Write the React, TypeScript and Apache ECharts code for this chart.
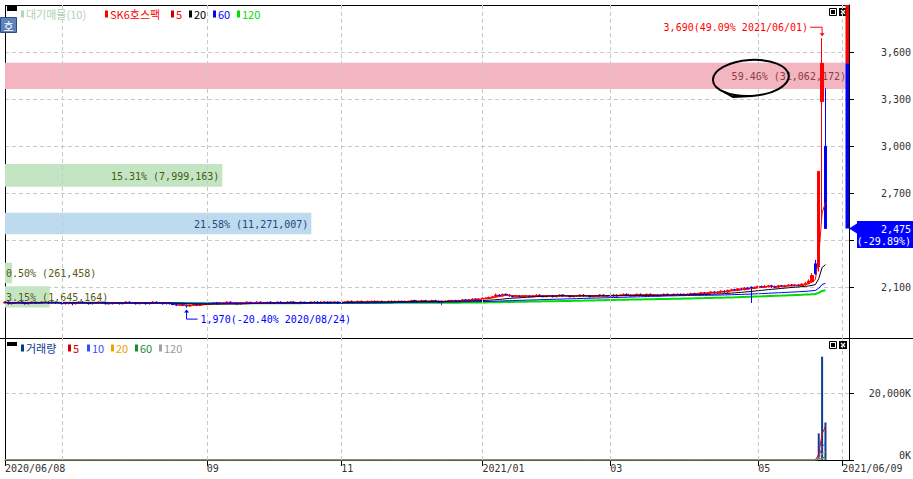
import React, { useEffect, useRef } from "react";
import * as echarts from "echarts";

const MONO = '"DejaVu Sans Mono", monospace';
const KFONT = '"Noto Sans CJK KR", sans-serif';

// market holidays inside the window
const holidays = [
	"2020/08/17", "2020/09/30", "2020/10/01", "2020/10/02", "2020/10/09", "2020/12/25",
	"2020/12/31", "2021/01/01", "2021/02/11", "2021/02/12", "2021/03/01", "2021/05/05", "2021/05/19",
];

// daily candles [open, close, low, high]
const jun20 = [
	[2000, 2005, 1995, 2010], [2005, 1995, 1990, 2010], [1995, 2000, 1990, 2005], [2000, 2000, 1995, 2005], [2000, 2005, 1995, 2010],
	[2005, 2000, 1995, 2010], [2000, 1995, 1990, 2005], [1995, 2000, 1990, 2005], [2000, 2005, 1995, 2010], [2005, 2000, 1995, 2005],
	[2000, 2000, 1995, 2005], [2000, 2005, 1995, 2010], [2005, 2005, 2000, 2010], [2005, 2000, 1995, 2010], [2000, 2005, 1995, 2010],
	[2005, 2000, 1995, 2005], [2000, 2000, 1995, 2005],
];
const jul20 = [
	[2000, 1995, 1990, 2005], [1995, 2000, 1990, 2005], [2000, 2000, 1990, 2005], [2000, 1995, 1985, 2005], [1995, 2000, 1990, 2005],
	[2000, 2005, 1995, 2010], [2005, 2000, 1995, 2010], [2000, 2000, 1995, 2005], [2000, 1995, 1990, 2005], [1995, 2000, 1990, 2005],
	[2000, 2000, 1995, 2005], [2000, 2005, 1995, 2010], [2005, 2000, 1995, 2005], [2000, 1995, 1990, 2005], [1995, 1995, 1990, 2000],
	[1995, 2000, 1990, 2005], [2000, 2000, 1995, 2005], [2000, 1995, 1990, 2005], [1995, 2000, 1990, 2005], [2000, 2005, 1995, 2010],
	[2005, 2000, 1995, 2010], [2000, 2000, 1995, 2005], [2000, 1995, 1990, 2005],
];
const aug20 = [
	[1995, 2000, 1990, 2005], [2000, 2000, 1995, 2005], [2000, 1995, 1990, 2005], [1995, 2000, 1990, 2005], [2000, 2005, 1995, 2010],
	[2005, 2000, 1995, 2010], [2000, 2000, 1995, 2005], [2000, 1995, 1990, 2005], [1995, 2000, 1990, 2005], [2000, 1995, 1990, 2005],
	[1995, 1990, 1985, 2000], [1990, 1985, 1980, 1995], [1985, 1990, 1980, 1995], [1990, 1985, 1980, 1995], [1985, 1980, 1970, 1990],
	[1980, 1985, 1975, 1990], [1985, 1990, 1980, 1995], [1990, 1985, 1980, 1995], [1985, 1990, 1980, 1995], [1990, 1990, 1985, 1995],
];
const sep20 = [
	[1990, 1995, 1985, 2000], [1995, 1995, 1990, 2000], [1995, 2000, 1990, 2005], [2000, 1995, 1990, 2005], [1995, 2000, 1990, 2005],
	[2000, 2000, 1995, 2005], [2000, 2005, 1995, 2010], [2005, 2000, 1995, 2010], [2000, 2000, 1995, 2005], [2000, 1995, 1990, 2005],
	[1995, 2000, 1990, 2005], [2000, 2000, 1995, 2005], [2000, 2005, 1995, 2010], [2005, 2000, 1995, 2005], [2000, 2000, 1995, 2005],
	[2000, 2005, 1995, 2010], [2005, 2000, 1995, 2010], [2000, 2000, 1995, 2005], [2000, 2005, 1995, 2005], [2005, 2000, 1995, 2010],
	[2000, 2000, 1995, 2005],
];
const oct20 = [
	[2000, 2005, 1995, 2010], [2005, 2000, 1995, 2010], [2000, 2000, 1995, 2005], [2000, 2005, 1995, 2010], [2005, 2005, 2000, 2010],
	[2005, 2000, 1995, 2010], [2000, 2000, 1995, 2005], [2000, 2005, 1995, 2010], [2005, 2000, 1995, 2005], [2000, 2000, 1995, 2005],
	[2000, 2005, 1995, 2010], [2005, 2005, 2000, 2010], [2005, 2000, 1995, 2010], [2000, 2005, 1995, 2010], [2005, 2005, 2000, 2010],
	[2005, 2000, 1995, 2010], [2000, 2005, 1995, 2010], [2005, 2005, 2000, 2010], [2005, 2000, 1995, 2010],
];
const nov20 = [
	[2000, 2005, 1995, 2010], [2005, 2005, 2000, 2010], [2005, 2010, 2000, 2015], [2010, 2005, 2000, 2015], [2005, 2005, 2000, 2010],
	[2005, 2010, 2000, 2015], [2010, 2005, 2000, 2015], [2005, 2005, 2000, 2010], [2005, 2010, 2000, 2015], [2010, 2010, 2005, 2015],
	[2010, 2005, 2000, 2015], [2005, 2010, 2000, 2015], [2010, 2005, 2000, 2015], [2005, 2005, 2000, 2010], [2005, 2010, 2000, 2015],
	[2010, 2005, 2000, 2015], [2005, 2010, 2000, 2015], [2010, 2010, 2005, 2015], [2010, 2005, 2000, 2015], [2005, 2010, 2000, 2015],
	[2010, 2010, 2005, 2015],
];
const dec20 = [
	[2010, 2015, 2005, 2020], [2015, 2010, 2005, 2020], [2010, 2010, 2005, 2015], [2010, 2015, 2005, 2020], [2015, 2010, 2005, 2020],
	[2010, 2010, 2005, 2015], [2010, 2015, 2005, 2020], [2015, 2010, 2005, 2020], [2010, 2005, 2000, 2015], [2005, 2010, 1985, 2015],
	[2010, 2010, 2005, 2015], [2010, 2015, 2005, 2020], [2015, 2015, 2010, 2020], [2015, 2010, 2005, 2020], [2010, 2015, 2005, 2020],
	[2015, 2020, 2010, 2025], [2020, 2015, 2010, 2025], [2015, 2020, 2010, 2025], [2020, 2025, 2015, 2030], [2025, 2020, 2015, 2030],
	[2020, 2025, 2015, 2030],
];
const jan21 = [
	[2025, 2030, 2020, 2035], [2030, 2030, 2025, 2035], [2030, 2035, 2025, 2040], [2035, 2040, 2030, 2045], [2040, 2050, 2035, 2060],
	[2050, 2045, 2040, 2055], [2045, 2055, 2040, 2060], [2055, 2050, 2045, 2060], [2050, 2045, 2040, 2055], [2045, 2040, 2035, 2050],
	[2040, 2045, 2035, 2050], [2045, 2040, 2035, 2050], [2040, 2045, 2035, 2050], [2045, 2045, 2040, 2050], [2045, 2040, 2035, 2050],
	[2040, 2045, 2035, 2050], [2045, 2050, 2040, 2055], [2050, 2045, 2040, 2055], [2045, 2040, 2035, 2050], [2040, 2045, 2035, 2050],
];
const feb21 = [
	[2045, 2045, 2040, 2050], [2045, 2040, 2035, 2050], [2040, 2045, 2035, 2050], [2045, 2050, 2040, 2055], [2050, 2045, 2040, 2055],
	[2045, 2045, 2040, 2050], [2045, 2040, 2035, 2050], [2040, 2045, 2035, 2050], [2045, 2045, 2040, 2050], [2045, 2050, 2040, 2055],
	[2050, 2045, 2040, 2055], [2045, 2045, 2040, 2050], [2045, 2040, 2035, 2050], [2040, 2045, 2035, 2050], [2045, 2045, 2040, 2050],
	[2045, 2050, 2040, 2055], [2050, 2045, 2040, 2055], [2045, 2045, 2040, 2050],
];
const mar21 = [
	[2045, 2050, 2040, 2055], [2050, 2045, 2040, 2055], [2045, 2050, 2040, 2055], [2050, 2050, 2045, 2055], [2050, 2055, 2045, 2060],
	[2055, 2050, 2045, 2060], [2050, 2045, 2040, 2055], [2045, 2050, 2040, 2055], [2050, 2055, 2045, 2060], [2055, 2050, 2045, 2060],
	[2050, 2050, 2045, 2055], [2050, 2055, 2045, 2060], [2055, 2050, 2045, 2060], [2050, 2050, 2045, 2055], [2050, 2045, 2040, 2055],
	[2045, 2050, 2040, 2055], [2050, 2055, 2045, 2060], [2055, 2050, 2045, 2060], [2050, 2050, 2045, 2055], [2050, 2055, 2045, 2060],
	[2055, 2055, 2050, 2060], [2055, 2050, 2045, 2060],
];
const apr21 = [
	[2050, 2055, 2045, 2060], [2055, 2055, 2050, 2060], [2055, 2060, 2050, 2065], [2060, 2055, 2050, 2065], [2055, 2060, 2050, 2065],
	[2060, 2065, 2055, 2070], [2065, 2060, 2055, 2070], [2060, 2065, 2050, 2070], [2065, 2070, 2060, 2075], [2070, 2065, 2060, 2075],
	[2065, 2070, 2060, 2075], [2070, 2075, 2065, 2080], [2075, 2070, 2065, 2080], [2070, 2080, 2065, 2085], [2080, 2085, 2075, 2090],
	[2085, 2080, 2075, 2090], [2080, 2090, 2075, 2095], [2090, 2085, 2080, 2095], [2085, 2095, 2080, 2100], [2095, 2090, 2085, 2100],
	[2100, 2095, 2000, 2105], [2095, 2100, 2090, 2105],
];
const may21 = [
	[2100, 2105, 2095, 2110], [2105, 2100, 2095, 2110], [2100, 2105, 2095, 2115], [2105, 2110, 2100, 2115], [2110, 2105, 2095, 2115],
	[2105, 2100, 2095, 2110], [2100, 2110, 2095, 2115], [2110, 2105, 2100, 2115], [2105, 2110, 2100, 2115], [2110, 2115, 2105, 2120],
	[2115, 2110, 2105, 2120], [2110, 2115, 2105, 2120], [2115, 2110, 2105, 2120], [2110, 2120, 2105, 2125], [2120, 2125, 2110, 2135],
	[2125, 2140, 2120, 2150], [2135, 2175, 2130, 2190], [2250, 2185, 2180, 2275], [2230, 2840, 2200, 2840],
];
const jun21 = [[3285, 3530, 2520, 3690], [3000, 2475, 2475, 3370]];

// daily volume, thousand shares
const volJun20 = [14, 9, 6, 11, 8, 5, 7, 12, 6, 9, 4, 8, 10, 6, 7, 5, 9];
const volJul20 = [6, 8, 5, 11, 7, 4, 9, 6, 5, 13, 7, 6, 8, 4, 5, 9, 6, 7, 5, 10, 6, 4, 8];
const volAug20 = [7, 5, 6, 9, 4, 6, 8, 5, 7, 11, 14, 18, 9, 12, 21, 10, 8, 6, 9, 7];
const volSep20 = [8, 6, 5, 7, 9, 4, 6, 5, 8, 6, 7, 5, 4, 9, 6, 5, 7, 6, 4, 5, 6];
const volOct20 = [5, 7, 4, 6, 5, 8, 4, 6, 5, 7, 4, 5, 6, 3, 5, 7, 4, 6, 5];
const volNov20 = [6, 5, 8, 4, 6, 5, 7, 9, 5, 4, 6, 5, 7, 4, 6, 8, 5, 4, 6, 5, 7];
const volDec20 = [5, 6, 4, 7, 5, 6, 4, 5, 8, 12, 6, 5, 7, 4, 6, 9, 5, 7, 11, 6, 8];
const volJan21 = [9, 7, 10, 12, 18, 11, 14, 9, 8, 6, 7, 5, 8, 6, 5, 7, 9, 6, 5, 7];
const volFeb21 = [6, 5, 7, 8, 5, 4, 6, 5, 7, 8, 5, 4, 6, 5, 4, 7, 6, 5];
const volMar21 = [6, 7, 5, 4, 8, 6, 5, 7, 9, 6, 5, 4, 6, 7, 5, 6, 8, 5, 4, 6, 5, 7];
const volApr21 = [6, 5, 8, 6, 7, 9, 6, 8, 10, 7, 6, 9, 7, 11, 10, 8, 12, 9, 13, 8, 25, 10];
const volMay21 = [9, 7, 8, 10, 7, 6, 9, 8, 7, 10, 8, 9, 7, 12, 15, 30, 80, 150, 7999];
const volJun21 = [31062, 11271];

// 대기매물 bands (price range, share, volume)
const profileLow = [3366, 2742, 2438, 2126, 1971];
const profileHigh = [3534, 2887, 2576, 2257, 2107];
const profilePct = [59.46, 15.31, 21.58, 0.5, 3.15];
const profileVol = [31062172, 7999163, 11271007, 261458, 1645164];
const profileFill = ["#f3b5bf", "#c3e5c3", "#bddaef", "#c3e5c3", "#c3e5c3"];
const profileText = ["#8c3c46", "#4b5a12", "#1d4a7c", "#555a10", "#555a10"];

const priceTicks = [2100, 2400, 2700, 3000, 3300, 3600];
const priceLabels = [2100, 2700, 3000, 3300, 3600]; // 2,400 sits under the price box
const volumeTicks = [0, 20000000];
const upperLimit = 4585;

const priceLegend = ["대기매물(10)", "SK6호스팩", "5", "20", "60", "120"];
const volumeLegend = ["거래량", "5", "10", "20", "60", "120"];
const maPeriods = [5, 20, 60, 120];
const maColors = ["#ff0000", "#000000", "#0000ff", "#00dd00"];
const volMaPeriods = [5, 10, 20, 60, 120];
const volMaColors = ["#e00000", "#3050ff", "#f0a000", "#1a8a3a", "#a0a0a0"];

function tradingDays(from: number[], to: number[]) {
	const out: string[] = [];
	const d = new Date(Date.UTC(from[0], from[1] - 1, from[2]));
	const end = Date.UTC(to[0], to[1] - 1, to[2]);
	while (d.getTime() <= end) {
		const wd = d.getUTCDay();
		const s = d.toISOString().slice(0, 10).replace(/-/g, "/");
		if (wd !== 0 && wd !== 6 && !holidays.includes(s)) out.push(s);
		d.setUTCDate(d.getUTCDate() + 1);
	}
	return out;
}

// two blank sessions after the last label keep the right margin
const dates = tradingDays([2020, 6, 8], [2021, 6, 11]);
const lastLabel = "2021/06/09";

const candles = [...jun20, ...jul20, ...aug20, ...sep20, ...oct20, ...nov20, ...dec20, ...jan21, ...feb21, ...mar21, ...apr21, ...may21, ...jun21];
const volumes = [...volJun20, ...volJul20, ...volAug20, ...volSep20, ...volOct20, ...volNov20, ...volDec20, ...volJan21, ...volFeb21, ...volMar21, ...volApr21, ...volMay21, ...volJun21].map((v) => v * 1000);

const movingAverage = (arr: number[], n: number) =>
	arr.map((_, i) => {
		const s = Math.max(0, i - n + 1);
		let sum = 0;
		for (let j = s; j <= i; j++) sum += arr[j];
		return +(sum / (i - s + 1)).toFixed(2);
	});

const fmt = (v: number) => v.toLocaleString("en-US");

export default function App() {
	const ref = useRef<HTMLDivElement>(null);

	useEffect(() => {
		if (!ref.current) return;
		const chart = echarts.init(ref.current, null, { renderer: "svg" });

		const closes = candles.map((c) => c[1]);
		const lows = candles.map((c) => c[2]);
		const highs = candles.map((c) => c[3]);
		const lastIdx = candles.length - 1;
		const lastClose = closes[lastIdx];
		const prevClose = closes[lastIdx - 1];

		// month marks on the date axis
		const labelAt = new Map<number, string>();
		const splitDates: string[] = [];
		dates.forEach((d, i) => {
			if (i === 0 || dates[i - 1].slice(0, 7) === d.slice(0, 7)) return;
			const m = Number(d.slice(5, 7));
			if (m % 2 === 0) return;
			splitDates.push(d);
			if (i > 30) labelAt.set(i, m === 1 ? d.slice(0, 7) : d.slice(5, 7));
		});
		const endIdx = dates.indexOf(lastLabel);
		labelAt.set(0, dates[0]);
		labelAt.set(endIdx, lastLabel);
		splitDates.push(lastLabel);

		const dashed = { color: "#c8c8c8", type: [4, 3], width: 1 };
		const vGrid = {
			silent: true, symbol: ["none", "none"], label: { show: false }, animation: false,
			lineStyle: dashed, emphasis: { disabled: true },
			data: splitDates.map((d) => ({ xAxis: d })),
		};
		const maxPct = Math.max(...profilePct);

		const option: any = {
			animation: false,
			backgroundColor: "#ffffff",
			textStyle: { fontFamily: MONO },
			grid: [
				{ left: 5, top: 5, width: 844, height: 333, outerBoundsMode: "none" },
				{ left: 5, top: 338, width: 844, height: 122, outerBoundsMode: "none" },
			],
			xAxis: [
				{
					type: "category", gridIndex: 0, data: dates, boundaryGap: false,
					axisLine: { show: false }, axisTick: { show: false }, axisLabel: { show: false },
					splitLine: { show: false },
				},
				{
					type: "category", gridIndex: 1, data: dates, boundaryGap: false,
					axisLine: { show: true, lineStyle: { color: "#000", width: 1 } },
					axisTick: { show: true, interval: (i: number) => labelAt.has(i), length: 6, lineStyle: { color: "#000" } },
					axisLabel: {
						interval: (i: number) => labelAt.has(i),
						formatter: (_v: string, i: number) => labelAt.get(i) ?? "",
						align: "left", margin: 3, color: "#333", fontSize: 10, fontFamily: MONO,
						hideOverlap: false,
					},
					splitLine: { show: false },
				},
			],
			yAxis: [
				{
					type: "value", gridIndex: 0, position: "right", min: 1776, max: 3902, scale: true,
					axisLine: { show: true, lineStyle: { color: "#000", width: 1 } },
					axisTick: { show: true, length: 5, customValues: priceTicks, lineStyle: { color: "#000" } },
					axisLabel: {
						customValues: priceLabels, align: "right", margin: 62, color: "#333",
						fontSize: 10, fontFamily: MONO, formatter: (v: number) => fmt(v),
					},
					splitLine: { show: true, lineStyle: dashed },
				},
				{
					type: "value", gridIndex: 1, position: "right", min: 0, max: 36667000,
					axisLine: { show: true, lineStyle: { color: "#000", width: 1 } },
					axisTick: { show: true, length: 5, customValues: volumeTicks, lineStyle: { color: "#000" } },
					axisLabel: {
						customValues: volumeTicks, align: "right", margin: 62, color: "#333",
						fontSize: 10, fontFamily: MONO, formatter: (v: number) => `${fmt(v / 1000)}K`,
						verticalAlignMinLabel: "bottom",
					},
					splitLine: { show: true, lineStyle: dashed },
				},
			],
			series: [
				{
					type: "custom", name: priceLegend[0], xAxisIndex: 0, yAxisIndex: 0, z: 1, silent: true,
					data: profileLow.map((lo, i) => [0, lo, profileHigh[i], profilePct[i], profileVol[i]]),
					renderItem: (params: any, api: any) => {
						const i = params.dataIndex;
						const cs = params.coordSys;
						const yTop = api.coord([0, api.value(2)])[1];
						const yBot = api.coord([0, api.value(1)])[1];
						const w = (cs.width * api.value(3)) / maxPct;
						const label = `${api.value(3).toFixed(2)}% (${fmt(api.value(4))})`;
						const inside = label.length * 6.02 + 8 < w;
						return {
							type: "group",
							children: [
								{ type: "rect", shape: { x: cs.x, y: yTop, width: w, height: yBot - yTop }, style: { fill: profileFill[i] } },
								{
									type: "text",
									style: {
										text: label, x: inside ? cs.x + w - 3 : cs.x + 1, y: (yTop + yBot) / 2 + 1,
										align: inside ? "right" : "left", verticalAlign: "middle",
										fill: profileText[i], font: `10px ${MONO}`,
									},
								},
							],
						};
					},
				},
				{
					type: "line", name: priceLegend[5], xAxisIndex: 0, yAxisIndex: 0, z: 2,
					data: movingAverage(closes, 120), symbol: "none", silent: true,
					lineStyle: { color: maColors[3], width: 2 },
					markLine: vGrid,
				},
				{
					type: "candlestick", name: priceLegend[1], xAxisIndex: 0, yAxisIndex: 0, z: 3,
					data: candles, barWidth: 3,
					itemStyle: { color: "#ff0000", color0: "#0000ff", borderColor: "#ff0000", borderColor0: "#0000ff", borderWidth: 1 },
				},
				...maPeriods.slice(0, 3).map((n, k) => ({
					type: "line", name: priceLegend[k + 2], xAxisIndex: 0, yAxisIndex: 0, z: 4,
					data: movingAverage(closes, n), symbol: "none", silent: true,
					lineStyle: { color: maColors[k], width: 1 },
				})),
				{
					type: "custom", xAxisIndex: 0, yAxisIndex: 0, z: 5, clip: true, silent: true,
					data: [[lastIdx, prevClose, upperLimit, 1], [lastIdx, lastClose, prevClose, 0]],
					renderItem: (params: any, api: any) => {
						const cs = params.coordSys;
						const yTop = api.coord([api.value(0), api.value(2)])[1];
						const yBot = api.coord([api.value(0), api.value(1)])[1];
						return {
							type: "rect",
							shape: { x: cs.x + cs.width - 3.5, y: yTop, width: 3.5, height: yBot - yTop },
							style: { fill: api.value(3) ? "#ff0000" : "#0000ff" },
						};
					},
				},
				{
					type: "bar", name: volumeLegend[0], xAxisIndex: 1, yAxisIndex: 1, data: volumes,
					barWidth: 2, itemStyle: { color: "#0c3d8e" }, z: 2,
					markLine: vGrid,
				},
				...volMaPeriods.map((n, k) => ({
					type: "line", name: `v${n}`, xAxisIndex: 1, yAxisIndex: 1, z: 3,
					data: movingAverage(volumes, n), symbol: "none", silent: true,
					lineStyle: { color: volMaColors[k], width: 1 },
				})),
			],
		};
		chart.setOption(option);

		// annotations placed through the axes
		const toPx = (i: number, v: number) => chart.convertToPixel({ xAxisIndex: 0, yAxisIndex: 0 }, [i, v]) as number[];
		const hiIdx = highs.indexOf(Math.max(...highs));
		const loIdx = lows.indexOf(Math.min(...lows));
		const [hx, hy] = toPx(hiIdx, highs[hiIdx]);
		const [lx, ly] = toPx(loIdx, lows[loIdx]);
		const [, py] = toPx(lastIdx, lastClose);
		const pct = (v: number) => ((v / lastClose - 1) * 100).toFixed(2);
		const chg = ((lastClose / prevClose - 1) * 100).toFixed(2);

		const legendRow = (labels: string[], xs: number[], icons: string[], texts: string[], y: number) =>
			labels.flatMap((t, i) => [
				{ type: "rect", shape: { x: xs[i], y: y - 3.5, width: 3, height: 7 }, style: { fill: icons[i] } },
				{ type: "text", style: { text: t, x: xs[i] + 5, y, verticalAlign: "middle", fill: texts[i], font: `11px ${KFONT}` } },
			]);
		const panelIcons = (y: number) => [
			{ type: "rect", shape: { x: 829.5, y: y + 0.5, width: 7, height: 7 }, style: { fill: "#fff", stroke: "#000", lineWidth: 1 } },
			{ type: "rect", shape: { x: 831, y: y + 2, width: 4, height: 4 }, style: { fill: "#000" } },
			{ type: "rect", shape: { x: 839, y, width: 8, height: 8 }, style: { fill: "#000" } },
			{ type: "line", shape: { x1: 841, y1: y + 2, x2: 845, y2: y + 6 }, style: { stroke: "#fff", lineWidth: 1.2 } },
			{ type: "line", shape: { x1: 845, y1: y + 2, x2: 841, y2: y + 6 }, style: { stroke: "#fff", lineWidth: 1.2 } },
		];
		const line = (x1: number, y1: number, x2: number, y2: number, c = "#000", w = 1) => ({
			type: "line", shape: { x1, y1, x2, y2 }, style: { stroke: c, lineWidth: w },
		});

		chart.setOption({
			graphic: [
				line(5, 5.5, 849, 5.5),
				line(5.5, 5, 5.5, 462),
				line(0, 338.5, 913, 338.5),
				{ type: "rect", shape: { x: 7, y: 6, width: 10, height: 5 }, style: { fill: "#000" } },
				{ type: "rect", shape: { x: 0.5, y: 17.5, width: 16, height: 15 }, style: { fill: "#5f82bb", stroke: "#2c4d84", lineWidth: 1 } },
				{ type: "text", style: { text: "호", x: 8.5, y: 25.5, align: "center", verticalAlign: "middle", fill: "#fff", font: `11px ${KFONT}` } },
				...legendRow(priceLegend, [21, 105, 171, 189, 213, 237],
					["#b4d8b4", "#ff0000", "#d00000", "#000000", "#0000ff", "#00dd00"],
					["#b0d2b0", "#ff0000", "#ff0000", "#000000", "#0000ff", "#00dd00"], 14),
				{ type: "rect", shape: { x: 7, y: 342, width: 10, height: 4 }, style: { fill: "#000" } },
				...legendRow(volumeLegend, [21, 68, 87, 111, 135, 159],
					["#0a3c8c", "#d00000", "#3050ff", "#f0a000", "#1a8a3a", "#a0a0a0"],
					["#0a3c8c", "#e00000", "#3050ff", "#f0a000", "#1a8a3a", "#999999"], 348),
				...panelIcons(8),
				...panelIcons(341),
				// high mark
				{
					type: "text", z: 20,
					style: { text: `${fmt(highs[hiIdx])}(${pct(highs[hiIdx])}% ${dates[hiIdx]})`, x: hx - 14, y: hy - 11, align: "right", verticalAlign: "middle", fill: "#ff0000", font: `10px ${MONO}` },
				},
				{ type: "polyline", z: 20, shape: { points: [[hx - 12, hy - 11], [hx, hy - 11], [hx, hy - 3]] }, style: { stroke: "#ff0000", lineWidth: 1, fill: "none" } },
				{ type: "polygon", z: 20, shape: { points: [[hx - 2.5, hy - 5], [hx + 2.5, hy - 5], [hx, hy - 2]] }, style: { fill: "#ff0000" } },
				// low mark
				{ type: "polygon", z: 20, shape: { points: [[lx - 2.5, ly + 5], [lx + 2.5, ly + 5], [lx, ly + 2]] }, style: { fill: "#0000ff" } },
				{ type: "polyline", z: 20, shape: { points: [[lx, ly + 3], [lx, ly + 11.5], [lx + 11, ly + 11.5]] }, style: { stroke: "#0000ff", lineWidth: 1, fill: "none" } },
				{
					type: "text", z: 20,
					style: { text: `${fmt(lows[loIdx])}(${pct(lows[loIdx])}% ${dates[loIdx]})`, x: lx + 14, y: ly + 11.5, verticalAlign: "middle", fill: "#0000ff", font: `10px ${MONO}` },
				},
				// hand drawn circle
				{ type: "ellipse", z: 30, shape: { cx: 751, cy: 78, rx: 38, ry: 18 }, rotation: 0.06, originX: 751, originY: 78, style: { stroke: "#000", lineWidth: 2, fill: "none" } },
				{ type: "polyline", z: 30, shape: { points: [[724, 92], [733, 97], [752, 96]] }, style: { stroke: "#000", lineWidth: 2, fill: "none" } },
				// current price box
				{ type: "polygon", z: 20, shape: { points: [[849, py], [857, py - 5], [857, py + 5]] }, style: { fill: "#0000ff" } },
				{ type: "rect", z: 20, shape: { x: 857, y: py - 7.5, width: 56, height: 27 }, style: { fill: "#0000ff" } },
				{ type: "text", z: 21, style: { text: fmt(lastClose), x: 911, y: py + 0.5, align: "right", verticalAlign: "middle", fill: "#fff", font: `10px ${MONO}` } },
				{ type: "text", z: 21, style: { text: `(${chg}%)`, x: 911, y: py + 12.5, align: "right", verticalAlign: "middle", fill: "#fff", font: `10px ${MONO}` } },
			],
		});

		return () => chart.dispose();
	}, []);

	return <div ref={ref} style={{ position: "fixed", left: 0, top: 0, width: 913, height: 479 }} />;
}
